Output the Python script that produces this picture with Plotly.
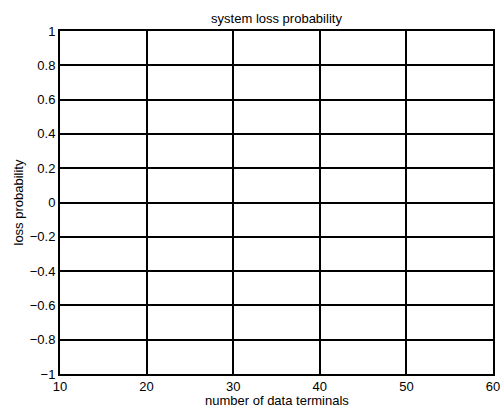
import plotly.graph_objects as go

title = "system loss probability"
x_label = "number of data terminals"
y_label = "loss probability"
x_ticks = [10, 20, 30, 40, 50, 60]
y_ticks = [-1, -0.8, -0.6, -0.4, -0.2, 0, 0.2, 0.4, 0.6, 0.8, 1]
y_ticktext = ["\u22121", "\u22120.8", "\u22120.6", "\u22120.4", "\u22120.2", "0", "0.2", "0.4", "0.6", "0.8", "1"]
x_values = []
y_values = []

fig = go.Figure()
fig.add_trace(go.Scatter(x=x_values, y=y_values, mode="lines", line=dict(color="blue"), showlegend=False))

fs = 13
font = dict(family="Liberation Sans, Arial, sans-serif", size=fs, color="black")
fig.update_layout(
    width=502, height=408, autosize=False,
    margin=dict(l=60, r=9, t=31, b=34, pad=0, autoexpand=False),
    paper_bgcolor="white", plot_bgcolor="white",
    font=font,
    title=dict(text=title, x=0.5, xanchor="center", xref="paper", y=1, yref="paper", yanchor="bottom",
               pad=dict(b=8), font=dict(size=fs, color="black"), automargin=False),
    showlegend=False,
    annotations=[
        dict(text=x_label, xref="paper", yref="paper", x=0.5, y=0, xanchor="center", yanchor="middle",
             yshift=-26, showarrow=False, font=dict(size=fs)),
        dict(text=y_label, xref="paper", yref="paper", x=0, y=0.5, xanchor="center", yanchor="middle",
             xshift=-42, textangle=-90, showarrow=False, font=dict(size=fs)),
    ],
)
fig.update_xaxes(range=[10, 60], tickvals=x_ticks, ticktext=[str(v) for v in x_ticks],
                 showgrid=True, gridcolor="black", gridwidth=1.5, automargin=False,
                 showline=True, linecolor="black", linewidth=2, mirror=True,
                 ticks="", ticklen=0, zeroline=False, ticklabelstandoff=-1)
fig.update_yaxes(range=[-1, 1], tickvals=y_ticks, ticktext=y_ticktext,
                 showgrid=True, gridcolor="black", gridwidth=1.5, automargin=False,
                 showline=True, linecolor="black", linewidth=2, mirror=True,
                 ticks="", ticklen=0, zeroline=False, ticklabelstandoff=0)

fig.write_html("out.html")
